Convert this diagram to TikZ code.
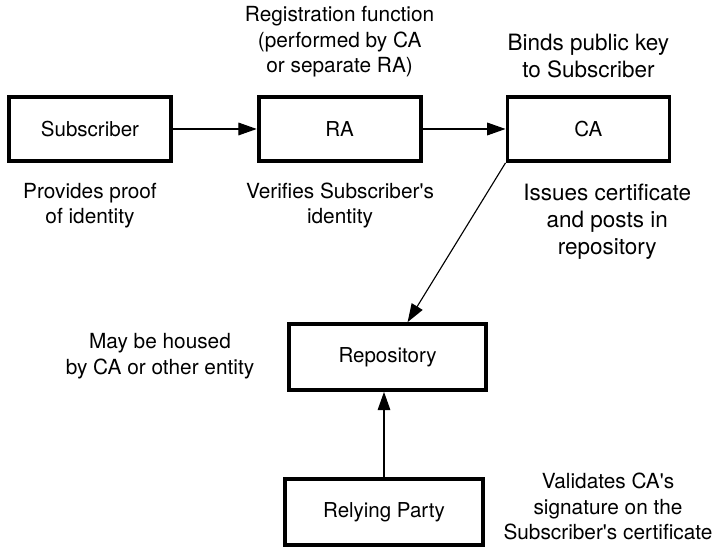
\documentclass[tikz,border=0pt]{standalone}
\usepackage{fontspec}
\setmainfont{TeX Gyre Heros}
\usetikzlibrary{arrows.meta}

\begin{document}
\begin{tikzpicture}[
    entity/.style={draw,line width=2.7pt,minimum width=4.05cm,minimum height=1.6cm,
      font=\fontsize{14.6}{18}\selectfont},
    note/.style={align=center,font=\fontsize{14.8}{18.1}\selectfont},
    bignote/.style={align=center,font=\fontsize{16}{19.2}\selectfont}]

  \useasboundingbox (0,0) rectangle (17.9,13.75);

  \begin{scope}[every node/.style=entity]
    \node (sub)  at (2.25,10.525)  {Subscriber};
    \node (ra)   at (8.49,10.525)  {RA};
    \node (ca)   at (14.71,10.525) {CA};
    \node[minimum width=4.93cm,minimum height=1.65cm] (repo) at (9.69,4.825) {Repository};
    \node[minimum width=4.95cm,minimum height=1.65cm] (rp)   at (9.6,0.95)   {Relying Party};
  \end{scope}

  % remarks round the boxes
  \node[note]    (regnote)  at (8.49,12.70) {Registration function\\(performed by CA\\or separate RA)};
  \node[bignote] (bindnote) at (14.71,12.34) {Binds public key\\to Subscriber};
  \node[note]    (provnote) at (2.25,8.61)  {Provides proof\\of identity};
  \node[note]    (vernote)  at (8.5,8.61)   {Verifies Subscriber\textquotesingle s\\identity};
  \node[bignote] (issnote)  at (15.18,8.2)  {Issues certificate\\and posts in\\repository};
  \node[note]    (housnote) at (4.0,4.85)   {May be housed\\by CA or other entity};
  \node[note]    (valnote)  at (15.2,1.08)  {Validates CA\textquotesingle s\\signature on the\\Subscriber\textquotesingle s certificate};

  \begin{scope}[every edge/.style={draw,line width=0.8pt,-{Triangle[length=13pt,width=9pt]}}]
    \path (sub.east)      edge (ra.west);
    \path (ra.east)       edge (ca.west);
    \path (ca.south west) edge ([xshift=0.5cm]repo.north);
    \path (rp.north)      edge (rp.north |- repo.south);
  \end{scope}

\end{tikzpicture}
\end{document}
